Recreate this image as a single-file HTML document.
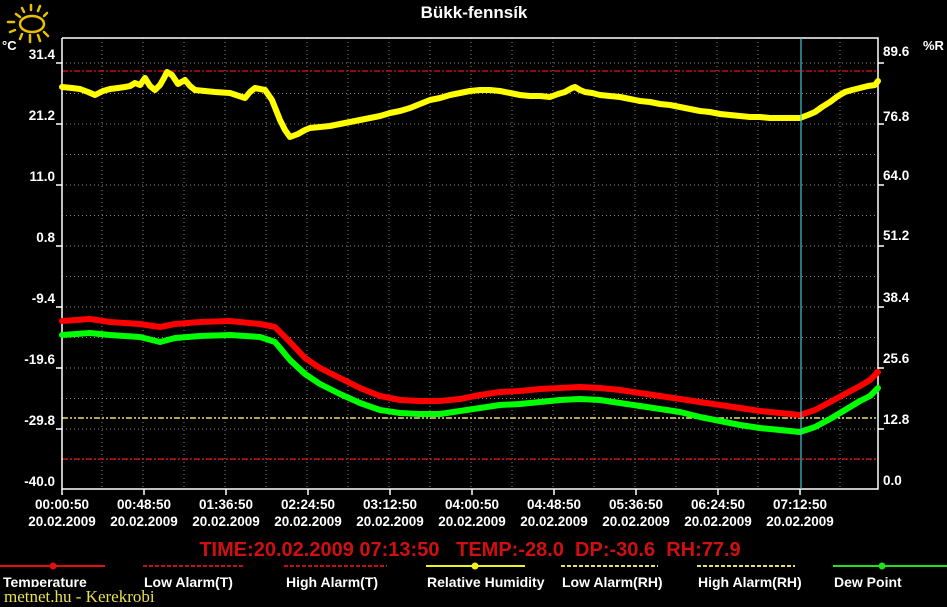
<!DOCTYPE html>
<html><head><meta charset="utf-8"><style>
html,body{margin:0;padding:0;background:#000;}
svg{display:block;font-family:"Liberation Sans",Arial,sans-serif;}
</style></head><body>
<svg width="947" height="607" viewBox="0 0 947 607" xmlns="http://www.w3.org/2000/svg">
<rect width="947" height="607" fill="#000"/>
<g stroke="#e8c000" stroke-width="2.5" fill="none" stroke-linecap="round">
<ellipse cx="32" cy="24" rx="12" ry="8"/>
<line x1="16" y1="14" x2="20" y2="17"/><line x1="22" y1="8" x2="24" y2="12"/><line x1="31" y1="5" x2="31" y2="10"/><line x1="40" y1="6" x2="38" y2="11"/><line x1="47" y1="13" x2="44" y2="16"/>
<line x1="8" y1="22" x2="14" y2="22"/><line x1="10" y1="32" x2="15" y2="30"/><line x1="20" y1="39" x2="22" y2="34"/><line x1="30" y1="42" x2="30" y2="35"/><line x1="40" y1="41" x2="38" y2="35"/><line x1="48" y1="36" x2="44" y2="32"/>
</g>
<text x="474" y="18" fill="#fff" font-size="17" font-weight="bold" text-anchor="middle">Bükk-fennsík</text>
<text x="2" y="50" fill="#fff" font-size="13" font-weight="bold">°C</text>
<text x="923" y="50" fill="#fff" font-size="13" font-weight="bold">%R</text>
<g stroke="#888" stroke-width="1" stroke-dasharray="1,3">
<line x1="62" y1="63" x2="878" y2="63"/><line x1="62" y1="93.5" x2="878" y2="93.5"/><line x1="62" y1="124" x2="878" y2="124"/><line x1="62" y1="154.5" x2="878" y2="154.5"/><line x1="62" y1="185" x2="878" y2="185"/><line x1="62" y1="215.5" x2="878" y2="215.5"/><line x1="62" y1="246" x2="878" y2="246"/><line x1="62" y1="276.5" x2="878" y2="276.5"/><line x1="62" y1="307" x2="878" y2="307"/><line x1="62" y1="337.5" x2="878" y2="337.5"/><line x1="62" y1="368" x2="878" y2="368"/><line x1="62" y1="398.5" x2="878" y2="398.5"/><line x1="62" y1="429" x2="878" y2="429"/><line x1="62" y1="459.5" x2="878" y2="459.5"/>
<line x1="102" y1="38" x2="102" y2="489"/><line x1="143" y1="38" x2="143" y2="489"/><line x1="184" y1="38" x2="184" y2="489"/><line x1="225" y1="38" x2="225" y2="489"/><line x1="266" y1="38" x2="266" y2="489"/><line x1="307" y1="38" x2="307" y2="489"/><line x1="348" y1="38" x2="348" y2="489"/><line x1="389" y1="38" x2="389" y2="489"/><line x1="430" y1="38" x2="430" y2="489"/><line x1="471" y1="38" x2="471" y2="489"/><line x1="512" y1="38" x2="512" y2="489"/><line x1="553" y1="38" x2="553" y2="489"/><line x1="594" y1="38" x2="594" y2="489"/><line x1="635" y1="38" x2="635" y2="489"/><line x1="676" y1="38" x2="676" y2="489"/><line x1="717" y1="38" x2="717" y2="489"/><line x1="758" y1="38" x2="758" y2="489"/><line x1="840" y1="38" x2="840" y2="489"/>
</g>
<line x1="62" y1="71" x2="878" y2="71" stroke="#c01010" stroke-width="1.5" stroke-dasharray="6,2,2,2"/>
<line x1="62" y1="459" x2="878" y2="459" stroke="#c01010" stroke-width="1.5" stroke-dasharray="6,2,2,2"/>
<line x1="62" y1="418" x2="878" y2="418" stroke="#e8e070" stroke-width="1.5" stroke-dasharray="6,2,2,2,2,2"/>
<g stroke="#fff" stroke-width="1.5" fill="none">
<polyline points="62,38 878,38 878,489 62,489 62,38"/>
</g>
<g stroke="#fff" stroke-width="1.5">
<line x1="56" y1="63" x2="62" y2="63"/><line x1="56" y1="124" x2="62" y2="124"/><line x1="56" y1="185" x2="62" y2="185"/><line x1="56" y1="246" x2="62" y2="246"/><line x1="56" y1="307" x2="62" y2="307"/><line x1="56" y1="368" x2="62" y2="368"/><line x1="56" y1="429" x2="62" y2="429"/>
<line x1="878" y1="63" x2="884" y2="63"/><line x1="878" y1="124" x2="884" y2="124"/><line x1="878" y1="185" x2="884" y2="185"/><line x1="878" y1="246" x2="884" y2="246"/><line x1="878" y1="307" x2="884" y2="307"/><line x1="878" y1="368" x2="884" y2="368"/><line x1="878" y1="429" x2="884" y2="429"/>
<line x1="62" y1="489" x2="62" y2="495"/><line x1="144" y1="489" x2="144" y2="495"/><line x1="226" y1="489" x2="226" y2="495"/><line x1="308" y1="489" x2="308" y2="495"/><line x1="390" y1="489" x2="390" y2="495"/><line x1="472" y1="489" x2="472" y2="495"/><line x1="554" y1="489" x2="554" y2="495"/><line x1="636" y1="489" x2="636" y2="495"/><line x1="718" y1="489" x2="718" y2="495"/><line x1="800" y1="489" x2="800" y2="495"/>
</g>
<g fill="#fff" font-size="13.5" font-weight="bold" text-anchor="end">
<text x="55" y="59">31.4</text><text x="55" y="120">21.2</text><text x="55" y="181">11.0</text><text x="55" y="242">0.8</text><text x="55" y="303">-9.4</text><text x="55" y="364">-19.6</text><text x="55" y="425">-29.8</text><text x="55" y="486">-40.0</text>
</g>
<g fill="#fff" font-size="13.5" font-weight="bold">
<text x="883" y="56">89.6</text><text x="883" y="121">76.8</text><text x="883" y="180">64.0</text><text x="883" y="240">51.2</text><text x="883" y="302">38.4</text><text x="883" y="363">25.6</text><text x="883" y="424">12.8</text><text x="883" y="485">0.0</text>
</g>
<g fill="#fff" font-size="13.5" font-weight="bold" text-anchor="middle">
<text x="62" y="509">00:00:50</text><text x="62" y="526">20.02.2009</text>
<text x="144" y="509">00:48:50</text><text x="144" y="526">20.02.2009</text>
<text x="226" y="509">01:36:50</text><text x="226" y="526">20.02.2009</text>
<text x="308" y="509">02:24:50</text><text x="308" y="526">20.02.2009</text>
<text x="390" y="509">03:12:50</text><text x="390" y="526">20.02.2009</text>
<text x="472" y="509">04:00:50</text><text x="472" y="526">20.02.2009</text>
<text x="554" y="509">04:48:50</text><text x="554" y="526">20.02.2009</text>
<text x="636" y="509">05:36:50</text><text x="636" y="526">20.02.2009</text>
<text x="718" y="509">06:24:50</text><text x="718" y="526">20.02.2009</text>
<text x="800" y="509">07:12:50</text><text x="800" y="526">20.02.2009</text>
</g>
<g fill="none" stroke-width="6" stroke-linejoin="round" stroke-linecap="round">
<polyline stroke="#ffff00" points="62,87 72,88 80,89 88,92 95,95 103,91 110,89 118,88 125,87 130,86 135,83 140,85 145,78 150,86 155,90 160,85 164,78 167,72 172,75 178,84 185,80 190,86 195,90 205,91 215,92 230,93 245,98 250,92 255,88 265,90 272,100 280,120 285,130 290,137 298,134 305,130 310,128 320,127 330,126 340,124 350,122 360,120 370,118 380,116 390,113 400,111 410,108 420,104 430,100 440,98 450,95 460,93 470,91 480,90 490,90 500,91 510,93 520,95 530,96 540,96 550,97 558,94 565,92 572,88 575,87 580,90 585,92 592,93 600,95 610,96 620,97 630,99 640,101 650,102 660,104 670,105 680,107 690,109 700,111 710,112 720,114 730,115 740,116 750,117 760,117 770,118 780,118 790,118 800,118 808,115 815,112 822,107 830,102 838,96 845,92 852,90 860,88 868,86 875,85 878,81"/>
<polyline stroke="#ff0000" points="62,321 90,319 110,322 140,324 160,327 175,324 200,322 230,321 260,324 275,327 290,342 305,358 320,368 340,378 360,388 380,396 400,400 420,401 440,401 460,399 480,395 500,392 520,391 540,389 560,388 580,387 600,388 620,390 640,393 660,396 680,399 700,402 720,405 740,408 760,411 780,413 800,415 815,410 830,402 845,394 860,386 870,380 878,372"/>
<polyline stroke="#00ff00" points="62,335 90,333 110,335 140,337 160,342 175,338 200,336 230,335 260,337 275,342 290,360 305,374 320,384 340,394 360,403 380,410 400,413 420,414 440,414 460,411 480,408 500,405 520,404 540,402 560,400 580,399 600,400 620,403 640,406 660,409 680,412 700,417 720,421 740,425 760,428 780,430 800,432 815,427 830,419 845,410 860,401 870,396 878,388"/>
</g>
<line x1="801" y1="38" x2="801" y2="489" stroke="#40c8d0" stroke-width="1.2"/>
<circle cx="877" cy="372" r="3" fill="#ff0000"/>
<text x="470" y="556" fill="#d01010" font-size="20" font-weight="bold" text-anchor="middle">TIME:20.02.2009 07:13:50 &#160;&#160;TEMP:-28.0 &#160;DP:-30.6 &#160;RH:77.9</text>
<g stroke-width="2">
<line x1="0" y1="566" x2="105" y2="566" stroke="#e01010"/>
<line x1="143" y1="566" x2="245" y2="566" stroke="#c01010" stroke-dasharray="4,2"/>
<line x1="284" y1="566" x2="387" y2="566" stroke="#c01010" stroke-dasharray="4,2"/>
<line x1="426" y1="566" x2="525" y2="566" stroke="#f0f020"/>
<line x1="561" y1="566" x2="658" y2="566" stroke="#e8e060" stroke-dasharray="4,2"/>
<line x1="697" y1="566" x2="795" y2="566" stroke="#e8e060" stroke-dasharray="4,2"/>
<line x1="833" y1="566" x2="947" y2="566" stroke="#20e020"/>
</g>
<circle cx="53" cy="566" r="3.5" fill="#e01010"/>
<circle cx="475" cy="566" r="3.5" fill="#f0f020"/>
<circle cx="882" cy="566" r="3.5" fill="#20e020"/>
<g fill="#fff" font-size="14" font-weight="bold">
<text x="3" y="587">Temperature</text>
<text x="144" y="587">Low Alarm(T)</text>
<text x="286" y="587">High Alarm(T)</text>
<text x="427" y="587">Relative Humidity</text>
<text x="562" y="587">Low Alarm(RH)</text>
<text x="698" y="587">High Alarm(RH)</text>
<text x="834" y="587">Dew Point</text>
</g>
<rect x="0" y="587" width="170" height="20" fill="#000"/>
<text x="4" y="602" fill="#e8e050" font-size="17" font-family="Liberation Serif, serif">metnet.hu - Kerekrobi</text>
</svg>
</body></html>
